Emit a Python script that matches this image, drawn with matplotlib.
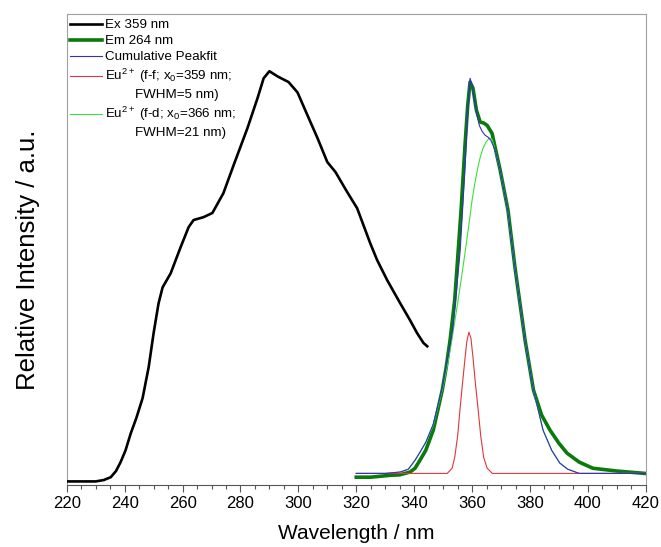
import matplotlib
matplotlib.use("Agg")
import matplotlib.pyplot as plt
from matplotlib.lines import Line2D
from matplotlib.ticker import MultipleLocator

plt.rcParams['font.family'] = ['Liberation Sans', 'DejaVu Sans']
plt.rcParams['mathtext.fontset'] = 'custom'
plt.rcParams['mathtext.rm'] = 'Liberation Sans'
plt.rcParams['mathtext.it'] = 'Liberation Sans:italic'

# excitation spectrum (Ex 359 nm)
ex_wl = [220, 230, 232.8, 235.2, 237, 238.6, 240.3, 242.1, 244, 246.2, 248.3, 250, 251.7,
         253.1, 255.9, 259.3, 262.1, 263.8, 267.2, 270.3, 274.1, 277.6, 282.4, 285.9, 288,
         290, 292.8, 296.6, 299.7, 303.1, 306.6, 310, 312.8, 316.9, 320.3, 324.8, 327.2,
         330.7, 335.2, 338.6, 341, 343.2, 344.5]
ex_int = [0.008, 0.008, 0.011, 0.017, 0.030, 0.049, 0.074, 0.110, 0.142, 0.185, 0.251, 0.323,
          0.386, 0.420, 0.450, 0.505, 0.548, 0.563, 0.569, 0.578, 0.620, 0.679, 0.758, 0.822,
          0.864, 0.879, 0.868, 0.856, 0.834, 0.786, 0.737, 0.686, 0.665, 0.622, 0.588, 0.514,
          0.478, 0.435, 0.386, 0.350, 0.323, 0.302, 0.295]

# emission spectrum (Em 264 nm)
em_wl = [320, 325, 331.7, 335, 338.6, 340.3, 342, 344, 346.6, 348, 349.7, 351, 352.4, 354,
         356.2, 357.6, 358.5, 359.3, 360.3, 361.5, 362.8, 364, 365.2, 366.9, 368, 369.7, 372.4,
         374.8, 378.3, 381.2, 384, 386.9, 390, 392.8, 397, 401.7, 410, 419.7]
em_int = [0.017, 0.017, 0.021, 0.022, 0.028, 0.036, 0.053, 0.074, 0.117, 0.155, 0.202, 0.248,
          0.308, 0.393, 0.584, 0.726, 0.807, 0.856, 0.843, 0.796, 0.771, 0.769, 0.764, 0.747,
          0.716, 0.669, 0.584, 0.463, 0.308, 0.202, 0.149, 0.117, 0.089, 0.068, 0.049, 0.036,
          0.030, 0.025]

# cumulative peak fit
fit_wl = [320, 330, 335.2, 338, 340.3, 342, 344, 346.6, 349.7, 352.4, 353.4, 355.9, 357.6,
          358.5, 359.3, 360, 360.8, 361.7, 362.5, 363.4, 364.5, 365.5, 366.5, 368, 369.7, 372.4,
          374.8, 378.3, 381.2, 384.5, 387.5, 390.3, 393, 397, 420]
fit_int = [0.025, 0.025, 0.028, 0.034, 0.053, 0.070, 0.091, 0.130, 0.206, 0.297, 0.335, 0.499,
           0.679, 0.796, 0.864, 0.849, 0.817, 0.786, 0.764, 0.752, 0.743, 0.739, 0.732, 0.711,
           0.669, 0.580, 0.463, 0.308, 0.202, 0.117, 0.074, 0.047, 0.034, 0.025, 0.025]

# Eu2+ f-f component
ff_wl = [320, 351.4, 352.2, 353.1, 354, 355, 355.9, 356.8, 357.6, 358.2, 358.9, 359.6, 360.3,
         361.1, 362, 363, 364, 365.2, 366.2, 367, 420]
ff_int = [0.025, 0.025, 0.030, 0.036, 0.059, 0.104, 0.166, 0.223, 0.272, 0.306, 0.325, 0.312,
          0.272, 0.219, 0.166, 0.104, 0.059, 0.036, 0.030, 0.025, 0.025]

# Eu2+ f-d component
fd_wl = [320, 330, 335.2, 338, 340.3, 342, 344, 346.6, 349.7, 351.5, 353.1, 354.8, 356.2, 357.6,
         359, 360, 361, 362, 362.8, 363.8, 364.8, 365.9, 366.9, 368, 369.7, 372.4, 374.8, 378.3,
         381.2, 384.5, 387.5, 390.3, 393, 397, 420]
fd_int = [0.025, 0.025, 0.028, 0.034, 0.053, 0.070, 0.091, 0.127, 0.202, 0.255, 0.312, 0.378,
          0.435, 0.495, 0.558, 0.605, 0.643, 0.675, 0.696, 0.716, 0.728, 0.737, 0.735, 0.711,
          0.669, 0.580, 0.463, 0.308, 0.202, 0.117, 0.074, 0.047, 0.034, 0.025, 0.025]

fig = plt.figure(figsize=(6.61, 5.47), dpi=100)
ax = fig.add_axes([0.101, 0.113, 0.876, 0.861])

l_ex, = ax.plot(ex_wl, ex_int, color='black', lw=1.9, solid_joinstyle='round', zorder=3)
l_em, = ax.plot(em_wl, em_int, color='#0a7a0a', lw=2.6, solid_joinstyle='round', zorder=3)
l_fd, = ax.plot(fd_wl, fd_int, color='#3ce03c', lw=0.8, zorder=3.5)
l_ff, = ax.plot(ff_wl, ff_int, color='#e0363c', lw=0.8, zorder=3.6)
l_fit, = ax.plot(fit_wl, fit_int, color='#3030c8', lw=0.8, zorder=4)

blank = Line2D([], [], color='none')
handles = [l_ex, l_em, l_fit, l_ff, blank, l_fd, blank]
labels = ['Ex 359 nm', 'Em 264 nm', 'Cumulative Peakfit',
          'Eu$^{2+}$ (f-f; x$_0$=359 nm;', '        FWHM=5 nm)',
          'Eu$^{2+}$ (f-d; x$_0$=366 nm;', '        FWHM=21 nm)']
ax.legend(handles, labels, loc='upper left', bbox_to_anchor=(0.005, 0.99),
          frameon=False, fontsize=9.6, handlelength=2.4, handletextpad=0.25,
          labelspacing=0.28, borderpad=0, borderaxespad=0)

ax.set_xlim(220, 420)
ax.set_ylim(0, 1)
ax.xaxis.set_major_locator(MultipleLocator(20))
ax.xaxis.set_minor_locator(MultipleLocator(5))
ax.tick_params(axis='x', which='major', direction='out', length=5, width=0.8,
               labelsize=12, pad=3, color='#555555')
ax.tick_params(axis='x', which='minor', direction='out', length=3, width=0.8, color='#555555')
ax.set_yticks([])

for s in ['left', 'top', 'right']:
    ax.spines[s].set_color('#a0a0a0')
    ax.spines[s].set_linewidth(0.8)
ax.spines['bottom'].set_color('#555555')
ax.spines['bottom'].set_linewidth(0.8)

ax.set_xlabel('Wavelength / nm', fontsize=15, labelpad=9)
ax.set_ylabel('Relative Intensity / a.u.', fontsize=18.5)
ax.yaxis.set_label_coords(-0.047, 0.478)

fig.savefig('out.png', dpi=100)
